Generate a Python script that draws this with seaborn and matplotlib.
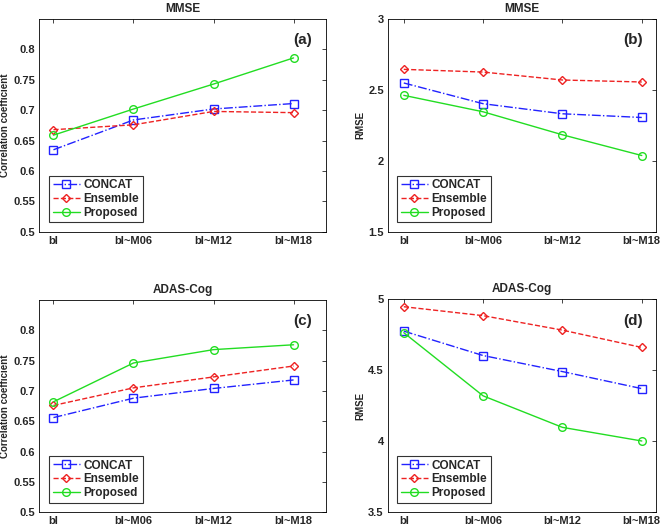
import seaborn as sns
import matplotlib.pyplot as plt
import pandas as pd
import numpy as np

# --- data ---
time_points = ['bl', 'bl~M06', 'bl~M12', 'bl~M18']
methods = ['CONCAT', 'Ensemble', 'Proposed']

mmse_cc_concat = [0.635, 0.684, 0.702, 0.711]
mmse_cc_ensemble = [0.668, 0.676, 0.698, 0.696]
mmse_cc_proposed = [0.659, 0.702, 0.743, 0.786]

mmse_rmse_concat = [2.549, 2.403, 2.332, 2.306]
mmse_rmse_ensemble = [2.645, 2.626, 2.570, 2.556]
mmse_rmse_proposed = [2.462, 2.346, 2.184, 2.038]

adas_cc_concat = [0.656, 0.688, 0.704, 0.718]
adas_cc_ensemble = [0.676, 0.705, 0.723, 0.741]
adas_cc_proposed = [0.682, 0.746, 0.768, 0.776]

adas_rmse_concat = [4.776, 4.604, 4.491, 4.371]
adas_rmse_ensemble = [4.948, 4.885, 4.783, 4.661]
adas_rmse_proposed = [4.765, 4.320, 4.098, 4.002]

# --- styling ---
sns.set_style("white")
plt.rcParams['font.family'] = ['Liberation Sans', 'DejaVu Sans']
plt.rcParams['font.weight'] = 'bold'
plt.rcParams['axes.labelweight'] = 'bold'
plt.rcParams['axes.titleweight'] = 'bold'
plt.rcParams['xtick.direction'] = 'in'
plt.rcParams['ytick.direction'] = 'in'

styles = {
    'CONCAT': dict(color='#2222ff', marker='s', linestyle='-.'),
    'Ensemble': dict(color='#ee2222', marker='D', linestyle='--'),
    'Proposed': dict(color='#22dd22', marker='o', linestyle='-'),
}

panels = [
    dict(pos=[0.059, 0.560, 0.434, 0.404], title='MMSE', tag='(a)',
         ylabel='Correlation coefficient', ylim=(0.5, 0.85),
         yticks=[0.5, 0.55, 0.6, 0.65, 0.7, 0.75, 0.8], ytl=['0.5', '0.55', '0.6', '0.65', '0.7', '0.75', '0.8'],
         xlim=(0.82, 4.41),
         series=[mmse_cc_concat, mmse_cc_ensemble, mmse_cc_proposed]),
    dict(pos=[0.586, 0.560, 0.405, 0.404], title='MMSE', tag='(b)',
         ylabel='RMSE', ylim=(1.5, 3.0),
         yticks=[1.5, 2.0, 2.5, 3.0], ytl=['1.5', '2', '2.5', '3'],
         xlim=(0.8, 4.18),
         series=[mmse_rmse_concat, mmse_rmse_ensemble, mmse_rmse_proposed]),
    dict(pos=[0.059, 0.028, 0.434, 0.403], title='ADAS-Cog', tag='(c)',
         ylabel='Correlation coefficient', ylim=(0.5, 0.85),
         yticks=[0.5, 0.55, 0.6, 0.65, 0.7, 0.75, 0.8], ytl=['0.5', '0.55', '0.6', '0.65', '0.7', '0.75', '0.8'],
         xlim=(0.82, 4.41),
         series=[adas_cc_concat, adas_cc_ensemble, adas_cc_proposed]),
    dict(pos=[0.586, 0.028, 0.405, 0.404], title='ADAS-Cog', tag='(d)',
         ylabel='RMSE', ylim=(3.5, 5.0),
         yticks=[3.5, 4.0, 4.5, 5.0], ytl=['3.5', '4', '4.5', '5'],
         xlim=(0.8, 4.18),
         series=[adas_rmse_concat, adas_rmse_ensemble, adas_rmse_proposed]),
]

fig = plt.figure(figsize=(6.62, 5.27), dpi=100)
x_pos = np.arange(1, len(time_points) + 1)

for p in panels:
    ax = fig.add_axes(p['pos'])
    for name, vals in zip(methods, p['series']):
        df = pd.DataFrame({'x': x_pos, 'y': vals})
        st = styles[name]
        sns.lineplot(data=df, x='x', y='y', ax=ax, label=name,
                     color=st['color'], marker=st['marker'], linestyle=st['linestyle'],
                     markersize=5.5 if st['marker'] != 'D' else 4.5,
                     markerfacecolor='none', markeredgecolor=st['color'],
                     markeredgewidth=1.0, linewidth=1.0)
    ax.set_xlim(*p['xlim'])
    ax.set_ylim(*p['ylim'])
    ax.set_xticks(x_pos)
    ax.set_xticklabels(time_points, fontsize=8, fontweight='bold')
    ax.set_yticks(p['yticks'])
    ax.set_yticklabels(p['ytl'], fontsize=8, fontweight='bold')
    ax.tick_params(top=True, right=True, length=3, width=0.6, pad=3)
    ax.set_xlabel('')
    ax.set_ylabel(p['ylabel'], fontsize=7, fontweight='bold', labelpad=2)
    ax.set_title(p['title'], fontsize=8.5, fontweight='bold', pad=5)
    for s in ax.spines.values():
        s.set_color('black')
        s.set_linewidth(0.6)
    ax.text(0.95, 0.9, p['tag'], transform=ax.transAxes, ha='right', va='center',
            fontsize=11, fontweight='bold')
    leg = ax.legend(loc='lower left', bbox_to_anchor=(0.035, 0.045), fontsize=8.5,
                    frameon=True, fancybox=False, borderpad=0.3, labelspacing=0.15,
                    handlelength=2.3, handletextpad=0.3, borderaxespad=0)
    leg.get_frame().set_edgecolor('black')
    leg.get_frame().set_linewidth(0.8)
    for t in leg.get_texts():
        t.set_fontweight('bold')

fig.savefig('out.png', dpi=100)
